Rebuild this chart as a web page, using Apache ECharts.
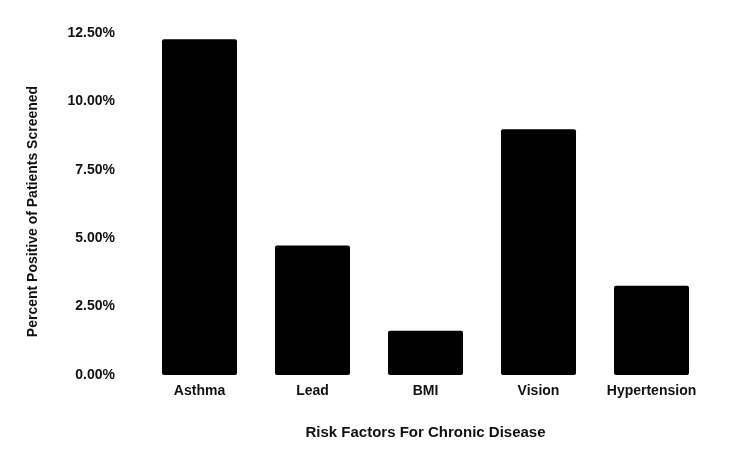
<!DOCTYPE html>
<html style="height: 100%">
<head>
  <meta charset="utf-8">
  <title>Risk Factors For Chronic Disease</title>
</head>
<body style="height: 100%; margin: 0; background: #fff">
<div id="container" style="width: 750px; height: 464px"></div>
<script src="https://cdn.jsdelivr.net/npm/echarts@6/dist/echarts.min.js"></script>
<script>
  var categories = ['Asthma', 'Lead', 'BMI', 'Vision', 'Hypertension'];
  var percentPositive = [12.27, 4.73, 1.62, 8.98, 3.26];

  var chart = echarts.init(document.getElementById('container'));
  var font = 'Liberation Sans, Arial, sans-serif';

  chart.setOption({
    animation: false,
    grid: { left: 143, right: 42, top: 33, bottom: 89 },
    xAxis: {
      type: 'category',
      data: categories,
      name: 'Risk Factors For Chronic Disease',
      nameLocation: 'middle',
      nameGap: 50,
      nameTextStyle: { color: '#111', fontSize: 15, fontWeight: 'bold', fontFamily: font },
      axisLine: { show: false },
      axisTick: { show: false },
      axisLabel: {
        interval: 0, color: '#111', fontSize: 14, fontWeight: 'bold',
        fontFamily: font, margin: 9
      }
    },
    yAxis: {
      type: 'value',
      min: 0,
      max: 12.5,
      interval: 2.5,
      name: 'Percent Positive of Patients Screened',
      nameLocation: 'middle',
      nameGap: 103,
      nameTextStyle: {
        color: '#111', fontSize: 14, fontWeight: 'bold', fontFamily: font,
        padding: [0, 15, 0, 0]
      },
      axisLine: { show: false },
      axisTick: { show: false },
      splitLine: { show: false },
      axisLabel: {
        color: '#111', fontSize: 14, fontWeight: 'bold', fontFamily: font, margin: 28,
        formatter: function (v) { return v.toFixed(2) + '%'; }
      }
    },
    series: [{
      type: 'bar',
      data: percentPositive,
      barWidth: 75,
      itemStyle: { color: '#000', borderRadius: 2 }
    }]
  });
</script>
</body>
</html>
